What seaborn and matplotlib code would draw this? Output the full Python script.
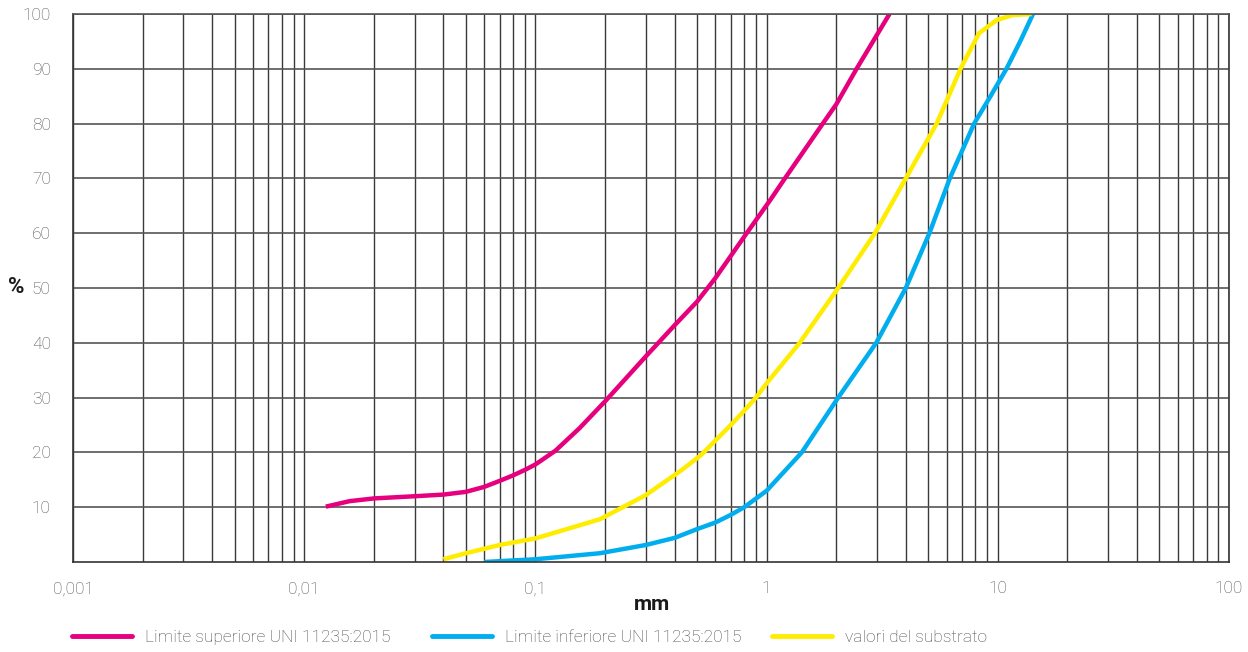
import matplotlib
matplotlib.use("Agg")
import matplotlib.pyplot as plt
from matplotlib.ticker import LogLocator, FixedLocator, NullFormatter
from matplotlib.lines import Line2D
import pandas as pd
import seaborn as sns

# Grain size distribution curves (sieve size in mm, % passing)
upper_mm = [0.0124, 0.0157, 0.02, 0.03, 0.04, 0.05, 0.06, 0.07, 0.08, 0.09, 0.1,
            0.122, 0.155, 0.2, 0.3, 0.4, 0.5, 0.6, 0.82, 1.035, 1.2, 1.75, 2.0,
            2.45, 3.4]
upper_pct = [10.1, 11.1, 11.6, 12.0, 12.3, 12.8, 13.7, 14.8, 15.8, 16.8, 17.8,
             20.3, 24.4, 29.3, 37.5, 43.2, 47.5, 51.8, 60.0, 66.0, 70.0, 80.0, 83.5,
             90.0, 100.0]

lower_mm = [0.06, 0.1, 0.19, 0.3, 0.4, 0.5, 0.6, 0.7, 0.8, 1.0, 1.42, 2.04,
            2.98, 4.0, 5.06, 6.2, 7.9, 9.3, 10.9, 12.5, 14.2]
lower_pct = [0.0, 0.5, 1.6, 3.1, 4.4, 6.0, 7.2, 8.6, 10.0, 13.0, 20.0, 30.0,
             40.0, 50.0, 60.0, 70.0, 80.0, 85.0, 90.0, 95.0, 100.0]

subst_mm = [0.04, 0.05, 0.07, 0.1, 0.19, 0.3, 0.43, 0.52, 0.7, 0.8, 0.9, 1.0,
            1.39, 2.04, 2.94, 4.0, 5.44, 6.9, 7.4, 8.3, 9.9, 11.6, 14.0]
subst_pct = [0.5, 1.6, 3.1, 4.3, 7.8, 12.2, 16.8, 19.5, 25.0, 27.6, 30.0, 32.6,
             40.0, 50.0, 60.0, 70.0, 80.0, 90.0, 92.5, 96.5, 98.9, 99.8, 100.0]

series_names = ["Limite superiore UNI 11235:2015",
                "Limite inferiore UNI 11235:2015",
                "valori del substrato"]
series_colors = ["#E6007E", "#00AEEF", "#FFED00"]

x_tick_values = [0.001, 0.01, 0.1, 1, 10, 100]
x_tick_labels = ["0,001", "0,01", "0,1", "1", "10", "100"]
y_tick_values = [10, 20, 30, 40, 50, 60, 70, 80, 90, 100]

frames = []
for name, xs, ys in zip(series_names,
                        [upper_mm, lower_mm, subst_mm],
                        [upper_pct, lower_pct, subst_pct]):
    frames.append(pd.DataFrame({"mm": xs, "pct": ys, "serie": name,
                                "order": range(len(xs))}))
df = pd.concat(frames, ignore_index=True)

sns.set_style("white")
plt.rcParams["font.family"] = ["Roboto", "DejaVu Sans"]
plt.rcParams["font.weight"] = "light"

fig = plt.figure(figsize=(12.48, 6.52), dpi=100)
ax = fig.add_axes([73 / 1248, 1 - 562 / 652, (1229 - 73) / 1248, (562 - 14) / 652])

ax.set_xscale("log")
ax.set_xlim(0.001, 100)
ax.set_ylim(0, 100)

# log grid: every integer multiple inside each decade
ax.xaxis.set_major_locator(FixedLocator(x_tick_values))
ax.xaxis.set_minor_locator(LogLocator(base=10, subs=range(2, 10), numticks=50))
ax.xaxis.set_minor_formatter(NullFormatter())
ax.set_xticklabels(x_tick_labels)
ax.set_yticks(y_tick_values)
ax.set_yticklabels([str(v) for v in y_tick_values])

ax.grid(which="major", axis="x", color="#3a3a3a", lw=1.0)
ax.grid(which="minor", axis="x", color="#3a3a3a", lw=1.0)
ax.grid(which="major", axis="y", color="#555555", lw=1.2)
ax.set_axisbelow(True)

# one connected line per series, in reading order
for name, color in zip(series_names, series_colors):
    sub = df[df["serie"] == name].sort_values("order")
    sns.lineplot(data=sub, x="mm", y="pct", color=color, lw=3.2, sort=False,
                 estimator=None, ax=ax, solid_capstyle="butt",
                 solid_joinstyle="round")

for side in ["left", "bottom", "right", "top"]:
    ax.spines[side].set_visible(True)
    ax.spines[side].set_color("#333333")
    ax.spines[side].set_linewidth(1.2)
ax.spines["top"].set_color("#555555")

ax.tick_params(axis="both", which="both", length=0, labelsize=12.5,
               labelcolor="#4f4f4f")
ax.tick_params(axis="x", pad=14)
ax.tick_params(axis="y", pad=16)

ax.set_xlabel("")
ax.set_ylabel("")
fig.text(652 / 1248, 1 - 605 / 652, "mm", ha="center", va="center",
         fontsize=15, fontweight="bold", color="#1a1a1a")
fig.text(16 / 1248, 1 - 287 / 652, "%", ha="center", va="center",
         fontsize=16, fontweight="bold", color="#1a1a1a")

# legend entries placed in a row below the axis
legend_x = [63, 423, 763]
for name, color, lx in zip(series_names, series_colors, legend_x):
    handle = Line2D([], [], color=color, lw=3.5)
    fig.legend([handle], [name], loc="center left",
               bbox_to_anchor=(lx / 1248, 1 - 637 / 652), frameon=False,
               handlelength=3.45, handletextpad=0.8, borderpad=0,
               fontsize=12.5, labelcolor="#4a4a4a")

fig.savefig("out.png", dpi=100)
